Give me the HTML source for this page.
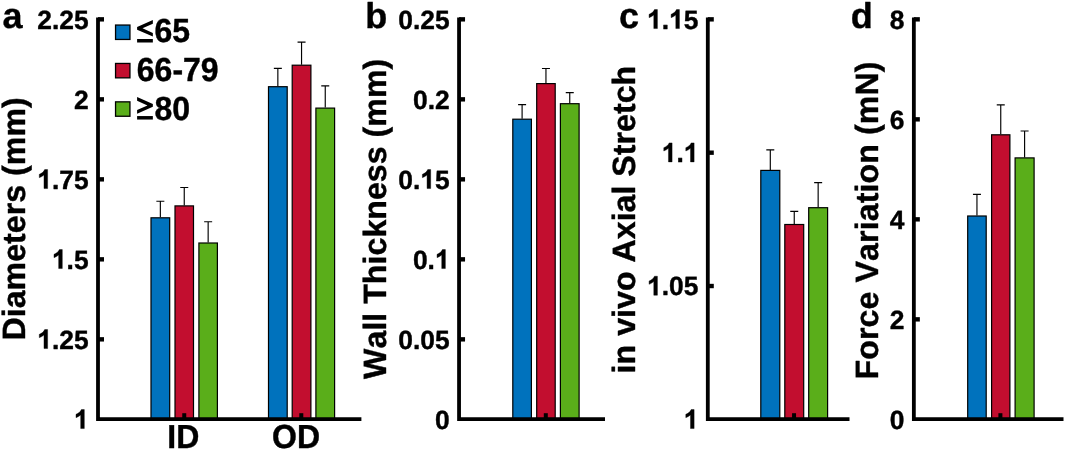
<!DOCTYPE html>
<html><head><meta charset="utf-8"><title>Figure</title>
<style>
html,body{margin:0;padding:0;background:#fff;}
svg{display:block;}
text{font-family:"Liberation Sans",sans-serif;font-weight:bold;fill:#000;stroke:#000;stroke-width:0.4px;stroke-linejoin:round;font-kerning:none;text-rendering:geometricPrecision;}
</style></head><body>
<svg width="1065" height="450" viewBox="0 0 1065 450">
<defs><filter id="g" x="0" y="0" width="1065" height="450" filterUnits="userSpaceOnUse" color-interpolation-filters="sRGB"><feOffset dx="0" dy="0"/></filter></defs>
<rect width="1065" height="450" fill="#fff"/>
<g filter="url(#g)">
<path d="M160.35 217.3 V201.2 M156.35 201.2 H164.35" fill="none" stroke="#000" stroke-width="1.15"/>
<rect x="151" y="217.8" width="18.7" height="201.3" fill="#0072BD" stroke="#000" stroke-width="1.2"/>
<path d="M184.25 205.4 V187.5 M180.25 187.5 H188.25" fill="none" stroke="#000" stroke-width="1.15"/>
<rect x="175" y="205.9" width="18.5" height="213.2" fill="#C20E2F" stroke="#000" stroke-width="1.2"/>
<path d="M208.15 242.5 V221.7 M204.15 221.7 H212.15" fill="none" stroke="#000" stroke-width="1.15"/>
<rect x="198.9" y="243" width="18.5" height="176.1" fill="#5AAE1A" stroke="#000" stroke-width="1.2"/>
<path d="M277.85 86.2 V68.4 M273.85 68.4 H281.85" fill="none" stroke="#000" stroke-width="1.15"/>
<rect x="268.5" y="86.7" width="18.7" height="332.4" fill="#0072BD" stroke="#000" stroke-width="1.2"/>
<path d="M301.55 64.7 V42.1 M297.55 42.1 H305.55" fill="none" stroke="#000" stroke-width="1.15"/>
<rect x="292.2" y="65.2" width="18.7" height="353.9" fill="#C20E2F" stroke="#000" stroke-width="1.2"/>
<path d="M325.25 107.6 V85.8 M321.25 85.8 H329.25" fill="none" stroke="#000" stroke-width="1.15"/>
<rect x="315.9" y="108.1" width="18.7" height="311" fill="#5AAE1A" stroke="#000" stroke-width="1.2"/>
<path d="M98 17.4 V419.1 H361.4" fill="none" stroke="#000" stroke-width="3.8" stroke-linejoin="miter"/>
<line x1="98" y1="19.35" x2="104" y2="19.35" stroke="#000" stroke-width="4.4"/>
<text x="88.6" y="28.55" text-anchor="end" font-size="26.4">2.25</text>
<line x1="98" y1="99.35" x2="104" y2="99.35" stroke="#000" stroke-width="4.4"/>
<text x="88.6" y="108.55" text-anchor="end" font-size="26.4">2</text>
<line x1="98" y1="179.35" x2="104" y2="179.35" stroke="#000" stroke-width="4.4"/>
<path transform="translate(37.22 188.55) scale(0.012891 -0.012891)" d="M806 0L525 0L525 1059Q371 915 162 846L162 1101Q272 1137 401 1237.5Q530 1338 578 1472L806 1472Z" fill="#000" stroke="#000" stroke-width="31.0" stroke-linejoin="round"/>
<text x="51.9" y="188.55" font-size="26.4">.75</text>
<line x1="98" y1="259.35" x2="104" y2="259.35" stroke="#000" stroke-width="4.4"/>
<path transform="translate(51.9 268.55) scale(0.012891 -0.012891)" d="M806 0L525 0L525 1059Q371 915 162 846L162 1101Q272 1137 401 1237.5Q530 1338 578 1472L806 1472Z" fill="#000" stroke="#000" stroke-width="31.0" stroke-linejoin="round"/>
<text x="66.58" y="268.55" font-size="26.4">.5</text>
<line x1="98" y1="339.35" x2="104" y2="339.35" stroke="#000" stroke-width="4.4"/>
<path transform="translate(37.22 348.55) scale(0.012891 -0.012891)" d="M806 0L525 0L525 1059Q371 915 162 846L162 1101Q272 1137 401 1237.5Q530 1338 578 1472L806 1472Z" fill="#000" stroke="#000" stroke-width="31.0" stroke-linejoin="round"/>
<text x="51.9" y="348.55" font-size="26.4">.25</text>
<path transform="translate(73.92 428.55) scale(0.012891 -0.012891)" d="M806 0L525 0L525 1059Q371 915 162 846L162 1101Q272 1137 401 1237.5Q530 1338 578 1472L806 1472Z" fill="#000" stroke="#000" stroke-width="31.0" stroke-linejoin="round"/>
<line x1="184.25" y1="419.1" x2="184.25" y2="413.2" stroke="#000" stroke-width="4"/>
<line x1="301.3" y1="419.1" x2="301.3" y2="413.2" stroke="#000" stroke-width="4"/>
<text transform="translate(25.4 340.5) rotate(-90)" font-size="32.2" letter-spacing="0">Diameters (mm)</text>
<text x="2.5" y="27.5" font-size="36">a</text>
<text transform="translate(167.3 447.8) scale(1 1.04)" font-size="32">ID</text>
<text transform="translate(272.0 447.8) scale(1 1.04)" font-size="32">OD</text>
<rect x="115.55" y="25.05" width="14.4" height="14.4" fill="#0072BD" stroke="#000" stroke-width="1.3"/>
<path d="M152.85 20L137.1 26.95L137.1 29.75L152.85 36.6L152.85 32.9L142.5 28.35L152.85 23.8Z" fill="#000"/>
<rect x="137.1" y="39" width="15.75" height="3.5" fill="#000"/>
<text transform="translate(154.5 42.45) scale(1 1.045)" font-size="32">65</text>
<rect x="115.55" y="63.45" width="14.4" height="14.4" fill="#C20E2F" stroke="#000" stroke-width="1.3"/>
<text transform="translate(136.8 81) scale(1 1.045)" font-size="32">66-79</text>
<rect x="115.55" y="101.85" width="14.4" height="14.4" fill="#5AAE1A" stroke="#000" stroke-width="1.3"/>
<path d="M137.1 97.05L152.85 104L152.85 106.8L137.1 113.65L137.1 109.95L147.45 105.4L137.1 100.85Z" fill="#000"/>
<rect x="137.1" y="116.05" width="15.75" height="3.5" fill="#000"/>
<text transform="translate(154.5 119.5) scale(1 1.045)" font-size="32">80</text>
<path d="M522.1 118.7 V104.6 M518.1 104.6 H526.1" fill="none" stroke="#000" stroke-width="1.15"/>
<rect x="512.8" y="119.2" width="18.6" height="299.9" fill="#0072BD" stroke="#000" stroke-width="1.2"/>
<path d="M545.95 83.1 V68.5 M541.95 68.5 H549.95" fill="none" stroke="#000" stroke-width="1.15"/>
<rect x="536.7" y="83.6" width="18.5" height="335.5" fill="#C20E2F" stroke="#000" stroke-width="1.2"/>
<path d="M569.75 103.2 V92.6 M565.75 92.6 H573.75" fill="none" stroke="#000" stroke-width="1.15"/>
<rect x="560.4" y="103.7" width="18.7" height="315.4" fill="#5AAE1A" stroke="#000" stroke-width="1.2"/>
<path d="M459.05 17.4 V419.1 H605" fill="none" stroke="#000" stroke-width="3.8" stroke-linejoin="miter"/>
<line x1="459.05" y1="19.35" x2="465.05" y2="19.35" stroke="#000" stroke-width="4.4"/>
<text x="449.65" y="28.55" text-anchor="end" font-size="26.4">0.25</text>
<line x1="459.05" y1="99.35" x2="465.05" y2="99.35" stroke="#000" stroke-width="4.4"/>
<text x="449.65" y="108.55" text-anchor="end" font-size="26.4">0.2</text>
<line x1="459.05" y1="179.35" x2="465.05" y2="179.35" stroke="#000" stroke-width="4.4"/>
<text x="398.27" y="188.55" font-size="26.4">0.</text>
<path transform="translate(420.29 188.55) scale(0.012891 -0.012891)" d="M806 0L525 0L525 1059Q371 915 162 846L162 1101Q272 1137 401 1237.5Q530 1338 578 1472L806 1472Z" fill="#000" stroke="#000" stroke-width="31.0" stroke-linejoin="round"/>
<text x="434.97" y="188.55" font-size="26.4">5</text>
<line x1="459.05" y1="259.35" x2="465.05" y2="259.35" stroke="#000" stroke-width="4.4"/>
<text x="412.95" y="268.55" font-size="26.4">0.</text>
<path transform="translate(434.97 268.55) scale(0.012891 -0.012891)" d="M806 0L525 0L525 1059Q371 915 162 846L162 1101Q272 1137 401 1237.5Q530 1338 578 1472L806 1472Z" fill="#000" stroke="#000" stroke-width="31.0" stroke-linejoin="round"/>
<line x1="459.05" y1="339.35" x2="465.05" y2="339.35" stroke="#000" stroke-width="4.4"/>
<text x="449.65" y="348.55" text-anchor="end" font-size="26.4">0.05</text>
<text x="449.65" y="428.55" text-anchor="end" font-size="26.4">0</text>
<line x1="545.8" y1="419.1" x2="545.8" y2="413.2" stroke="#000" stroke-width="4"/>
<text transform="translate(386 378.9) rotate(-90)" font-size="32.2" letter-spacing="0">Wall Thickness (mm)</text>
<text x="365.3" y="27.5" font-size="36">b</text>
<path d="M770.3 169.9 V149.8 M766.3 149.8 H774.3" fill="none" stroke="#000" stroke-width="1.15"/>
<rect x="760.8" y="170.4" width="19" height="248.7" fill="#0072BD" stroke="#000" stroke-width="1.2"/>
<path d="M794.25 224 V211.4 M790.25 211.4 H798.25" fill="none" stroke="#000" stroke-width="1.15"/>
<rect x="784.8" y="224.5" width="18.9" height="194.6" fill="#C20E2F" stroke="#000" stroke-width="1.2"/>
<path d="M818.15 207.2 V182.6 M814.15 182.6 H822.15" fill="none" stroke="#000" stroke-width="1.15"/>
<rect x="808.7" y="207.7" width="18.9" height="211.4" fill="#5AAE1A" stroke="#000" stroke-width="1.2"/>
<path d="M707.8 17.4 V419.1 H849.5" fill="none" stroke="#000" stroke-width="3.8" stroke-linejoin="miter"/>
<line x1="707.8" y1="19.35" x2="713.8" y2="19.35" stroke="#000" stroke-width="4.4"/>
<path transform="translate(647.02 28.55) scale(0.012891 -0.012891)" d="M806 0L525 0L525 1059Q371 915 162 846L162 1101Q272 1137 401 1237.5Q530 1338 578 1472L806 1472Z" fill="#000" stroke="#000" stroke-width="31.0" stroke-linejoin="round"/>
<text x="661.7" y="28.55" font-size="26.4">.</text>
<path transform="translate(669.04 28.55) scale(0.012891 -0.012891)" d="M806 0L525 0L525 1059Q371 915 162 846L162 1101Q272 1137 401 1237.5Q530 1338 578 1472L806 1472Z" fill="#000" stroke="#000" stroke-width="31.0" stroke-linejoin="round"/>
<text x="683.72" y="28.55" font-size="26.4">5</text>
<line x1="707.8" y1="152.68" x2="713.8" y2="152.68" stroke="#000" stroke-width="4.4"/>
<path transform="translate(661.7 161.88) scale(0.012891 -0.012891)" d="M806 0L525 0L525 1059Q371 915 162 846L162 1101Q272 1137 401 1237.5Q530 1338 578 1472L806 1472Z" fill="#000" stroke="#000" stroke-width="31.0" stroke-linejoin="round"/>
<text x="676.38" y="161.88" font-size="26.4">.</text>
<path transform="translate(683.72 161.88) scale(0.012891 -0.012891)" d="M806 0L525 0L525 1059Q371 915 162 846L162 1101Q272 1137 401 1237.5Q530 1338 578 1472L806 1472Z" fill="#000" stroke="#000" stroke-width="31.0" stroke-linejoin="round"/>
<line x1="707.8" y1="286.02" x2="713.8" y2="286.02" stroke="#000" stroke-width="4.4"/>
<path transform="translate(647.02 295.22) scale(0.012891 -0.012891)" d="M806 0L525 0L525 1059Q371 915 162 846L162 1101Q272 1137 401 1237.5Q530 1338 578 1472L806 1472Z" fill="#000" stroke="#000" stroke-width="31.0" stroke-linejoin="round"/>
<text x="661.7" y="295.22" font-size="26.4">.05</text>
<path transform="translate(683.72 428.55) scale(0.012891 -0.012891)" d="M806 0L525 0L525 1059Q371 915 162 846L162 1101Q272 1137 401 1237.5Q530 1338 578 1472L806 1472Z" fill="#000" stroke="#000" stroke-width="31.0" stroke-linejoin="round"/>
<line x1="794.05" y1="419.1" x2="794.05" y2="413.2" stroke="#000" stroke-width="4"/>
<text transform="translate(634.6 373.4) rotate(-90)" font-size="32.2" letter-spacing="0">in vivo Axial Stretch</text>
<text x="618.9" y="27.5" font-size="36">c</text>
<path d="M976.95 215.5 V194.4 M972.95 194.4 H980.95" fill="none" stroke="#000" stroke-width="1.15"/>
<rect x="967.7" y="216" width="18.5" height="203.1" fill="#0072BD" stroke="#000" stroke-width="1.2"/>
<path d="M1000.75 134.3 V104.8 M996.75 104.8 H1004.75" fill="none" stroke="#000" stroke-width="1.15"/>
<rect x="991.6" y="134.8" width="18.3" height="284.3" fill="#C20E2F" stroke="#000" stroke-width="1.2"/>
<path d="M1024.6 157.4 V131 M1020.6 131 H1028.6" fill="none" stroke="#000" stroke-width="1.15"/>
<rect x="1015.1" y="157.9" width="19" height="261.2" fill="#5AAE1A" stroke="#000" stroke-width="1.2"/>
<path d="M913.85 17.4 V419.1 H1063.5" fill="none" stroke="#000" stroke-width="3.8" stroke-linejoin="miter"/>
<line x1="913.85" y1="19.35" x2="919.85" y2="19.35" stroke="#000" stroke-width="4.4"/>
<text x="904.45" y="28.55" text-anchor="end" font-size="26.4">8</text>
<line x1="913.85" y1="119.35" x2="919.85" y2="119.35" stroke="#000" stroke-width="4.4"/>
<text x="904.45" y="128.55" text-anchor="end" font-size="26.4">6</text>
<line x1="913.85" y1="219.35" x2="919.85" y2="219.35" stroke="#000" stroke-width="4.4"/>
<text x="904.45" y="228.55" text-anchor="end" font-size="26.4">4</text>
<line x1="913.85" y1="319.35" x2="919.85" y2="319.35" stroke="#000" stroke-width="4.4"/>
<text x="904.45" y="328.55" text-anchor="end" font-size="26.4">2</text>
<text x="904.45" y="428.55" text-anchor="end" font-size="26.4">0</text>
<line x1="1000.4" y1="419.1" x2="1000.4" y2="413.2" stroke="#000" stroke-width="4"/>
<text transform="translate(878.2 379.5) rotate(-90)" font-size="32.2" letter-spacing="0.08">Force Variation (mN)</text>
<text x="850.8" y="27.5" font-size="36">d</text>
</g>
</svg>
</body></html>
